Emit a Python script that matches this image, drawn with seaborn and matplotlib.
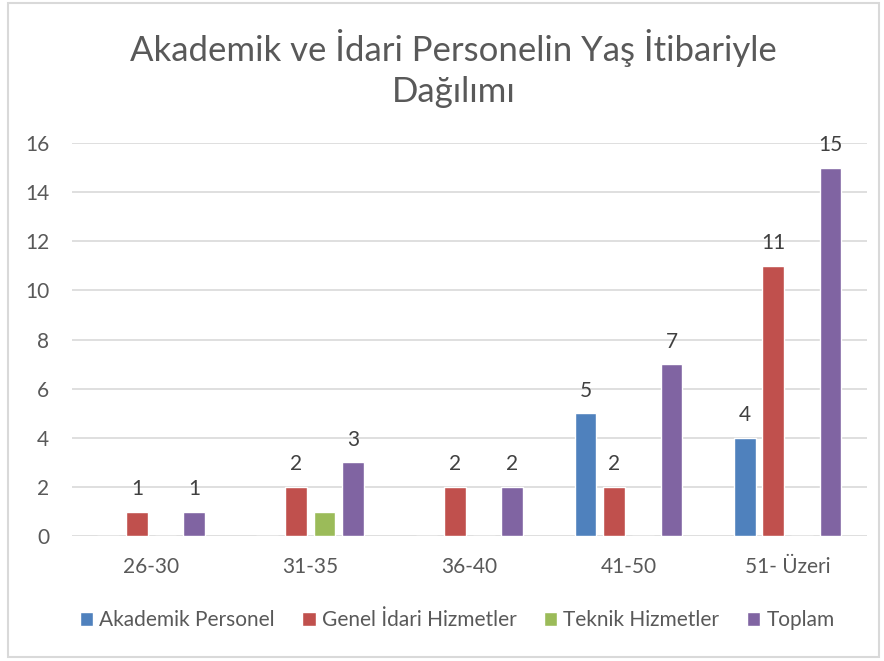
import pandas as pd
import numpy as np
import seaborn as sns
import matplotlib.pyplot as plt
from matplotlib.patches import Rectangle

categories = ["26-30", "31-35", "36-40", "41-50", "51- Üzeri"]
series = ["Akademik Personel", "Genel İdari Hizmetler", "Teknik Hizmetler", "Toplam"]
akademik = [0, 0, 0, 5, 4]
genel_idari = [1, 2, 2, 2, 11]
teknik = [0, 1, 0, 0, 0]
toplam = [1, 3, 2, 7, 15]
colors = ["#4F81BD", "#C0504D", "#9BBB59", "#8064A2"]

values = [akademik, genel_idari, teknik, toplam]
rows = []
for s, vals in zip(series, values):
    for c, v in zip(categories, vals):
        rows.append({"Yaş": c, "Seri": s, "Sayı": v})
df = pd.DataFrame(rows)

sns.set_style("white")
plt.rcParams["font.family"] = ["Lato", "DejaVu Sans"]

fig = plt.figure(figsize=(8.84, 6.61), dpi=100)
ax = fig.add_axes([0.081, 0.189, 0.900, 0.5946])
sns.barplot(data=df, x="Yaş", y="Sayı", hue="Seri", hue_order=series,
            order=categories, palette=colors, width=0.72, gap=0.24,
            saturation=1, ax=ax, legend=True)

ax.set_ylim(0, 16)
ax.set_yticks(range(0, 17, 2))
ax.yaxis.grid(True, color="#D9D9D9", linewidth=1.2)
ax.set_axisbelow(True)
for sp in ax.spines.values():
    sp.set_visible(False)
ax.set_xlabel("")
ax.set_ylabel("")
ax.tick_params(axis="both", length=0, labelsize=15, labelcolor="#595959")
ax.tick_params(axis="x", pad=15)
ax.tick_params(axis="y", pad=16)

# data labels (Teknik Hizmetler unlabeled)
for i, cont in enumerate(ax.containers):
    if i == 2:
        continue
    labs = ["" if v == 0 else str(int(v)) for v in values[i]]
    ax.bar_label(cont, labels=labs, padding=9, fontsize=15, color="#404040")

ax.legend(loc="center", bbox_to_anchor=(0.517, 0.062), bbox_transform=fig.transFigure,
          ncol=4, frameon=False, fontsize=15, handlelength=0.65, handleheight=0.65,
          handletextpad=0.3, columnspacing=1.3, labelcolor="#595959")

fig.text(0.513, 0.927, "Akademik ve İdari Personelin Yaş İtibariyle", ha="center", va="center",
         fontsize=25, color="#595959")
fig.text(0.513, 0.861, "Dağılımı", ha="center", va="center",
         fontsize=25, color="#595959")

fig.patches.append(Rectangle((0.009, 0.006), 0.985, 0.99, transform=fig.transFigure,
                             fill=False, edgecolor="#D9D9D9", linewidth=1.5))

fig.savefig("out.png", dpi=100)
